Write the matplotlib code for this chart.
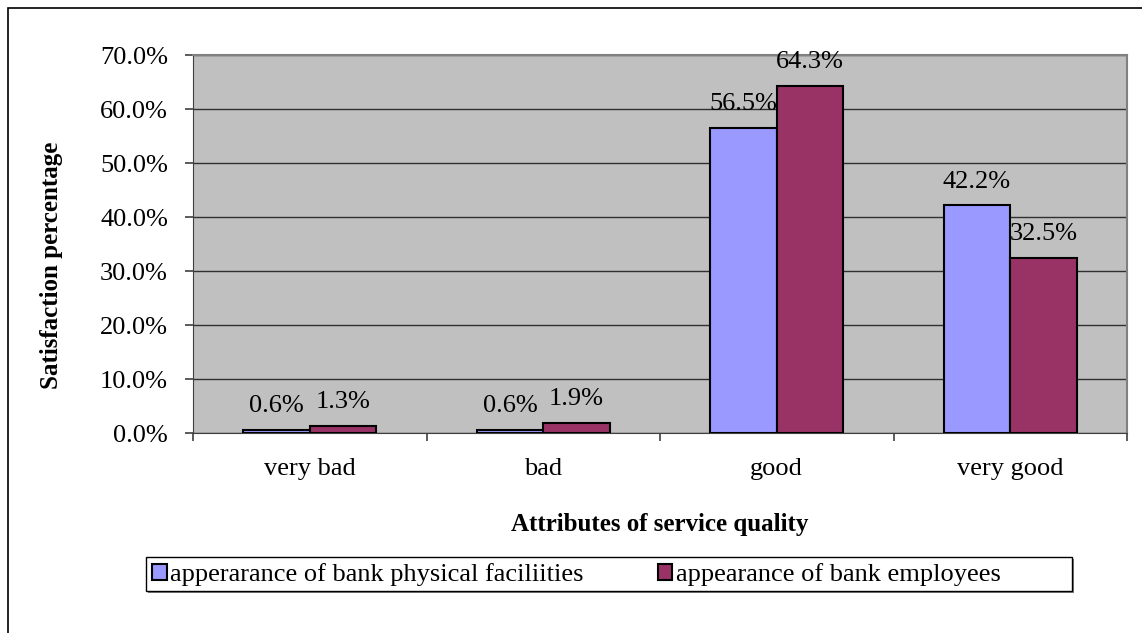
import matplotlib.pyplot as plt
from matplotlib.patches import Rectangle
from matplotlib.ticker import FuncFormatter
import numpy as np

categories = ['very bad', 'bad', 'good', 'very good']
facilities = [0.6, 0.6, 56.5, 42.2]
employees = [1.3, 1.9, 64.3, 32.5]
series_names = ['apperarance of bank physical faciliities', 'appearance of bank employees']

plt.rcParams['font.family'] = ['Liberation Serif', 'DejaVu Serif']
FS = 19

fig = plt.figure(figsize=(11.42, 6.33), dpi=100)
W, H = 1142, 633

# outer chart frame (only left/top visible)
fig.patches.append(Rectangle((8 / W, -0.1), 1.2, 1 - 8 / H + 0.1, transform=fig.transFigure,
                             fill=False, edgecolor='black', linewidth=1.2))

ax = fig.add_axes([193 / W, 1 - 433 / H, (1127 - 193) / W, (433 - 55) / H])
ax.set_facecolor('#C0C0C0')

x = np.arange(len(categories))
bw = 0.285
b1 = ax.bar(x - bw / 2, facilities, bw, color='#9999FF', edgecolor='black', linewidth=1.5,
            label=series_names[0], zorder=3)
b2 = ax.bar(x + bw / 2, employees, bw, color='#993366', edgecolor='black', linewidth=1.5,
            label=series_names[1], zorder=3)

for bars, vals in ((b1, facilities), (b2, employees)):
    for r, v in zip(bars, vals):
        ax.annotate(f'{v:.1f}%', (r.get_x() + r.get_width() / 2, v), xytext=(0, 9),
                    textcoords='offset points', ha='center', va='bottom', fontsize=FS, zorder=4)

ax.set_xlim(-0.5, 3.5)
ax.set_ylim(0, 70)
ax.set_yticks(np.arange(0, 71, 10))
ax.yaxis.set_major_formatter(FuncFormatter(lambda v, p: f'{v:.1f}%'))
ax.yaxis.grid(True, color='#303030', linewidth=1)
ax.set_axisbelow(True)

ax.set_xticks(x)
ax.set_xticklabels(categories)
ax.set_xticks(np.arange(-0.5, 4, 1), minor=True)
ax.tick_params(axis='x', which='major', length=0, pad=18, labelsize=FS)
ax.tick_params(axis='x', which='minor', length=6, width=1.2, color='#404040')
ax.tick_params(axis='y', length=6, width=1.2, color='#404040', labelsize=FS, pad=12)

for side in ('top', 'right'):
    ax.spines[side].set_color('#808080')
    ax.spines[side].set_linewidth(1.5)
ax.spines['left'].set_color('#404040')
ax.spines['bottom'].set_color('#404040')

fig.text(660 / W, 1 - 524 / H, 'Attributes of service quality', fontsize=18, fontweight='bold',
         ha='center', va='center')
fig.text(52 / W, 1 - 265 / H, 'Satisfaction percentage', fontsize=18, fontweight='bold',
         ha='center', va='center', rotation=90)

# legend box with a light shadow
fig.patches.append(Rectangle((148 / W, 1 - 593 / H), (1072 - 146) / W, 34 / H,
                             transform=fig.transFigure, facecolor='#808080', edgecolor='none',
                             zorder=0.9))
fig.patches.append(Rectangle((146 / W, 1 - 591 / H), (1072 - 146) / W, 34 / H,
                             transform=fig.transFigure, facecolor='white', edgecolor='black',
                             linewidth=1.0, zorder=1))
fig.legend(handles=[b1, b2], loc='center left', bbox_to_anchor=(152 / W, 1 - 575 / H),
           ncol=2, frameon=False, fontsize=FS, handlelength=0.55, handleheight=0.55,
           handletextpad=0.15, columnspacing=2.8, borderaxespad=0, borderpad=0)

plt.savefig('out.png')
